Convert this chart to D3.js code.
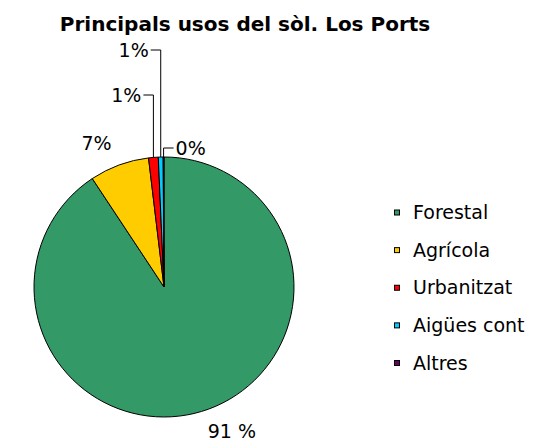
<!DOCTYPE html>
<html lang="ca">
  <head>
    <meta charset="UTF-8">
    <title>Principals usos del sòl. Los Ports</title>
    <style>
      body { margin: 0; background: #fff; }
      svg text { font-family: "DejaVu Sans", sans-serif; fill: #000; }
      .title { font-size: 20px; font-weight: bold; }
      .pct, .legend text { font-size: 19px; }
      .slice, .leader, .legend rect { stroke: #000; stroke-width: 1; }
      .leader { fill: none; }
    </style>
    <script src="https://d3js.org/d3.v7.min.js"></script>
  </head>
  <body>
    <script>
      // data (share of surface, %)
      const categories = ["Forestal", "Agrícola", "Urbanitzat", "Aigües cont", "Altres"];
      const values = [90.7, 7.4, 1.2, 0.6, 0.1];
      const pctLabels = ["91 %", "7%", "1%", "1%", "0%"];
      const colors = ["#339966", "#ffcc00", "#ff0000", "#00ccff", "#660066"];

      const width = 556;
      const height = 444;
      const cx = 164, cy = 287, radius = 130;

      // small slices got their labels pulled up with leader lines
      const leaderY = { "Urbanitzat": 95, "Aigües cont": 50, "Altres": 148 };
      const leaderSide = { "Urbanitzat": -1, "Aigües cont": -1, "Altres": 1 };

      const svg = d3.select("body")
        .append("svg")
        .attr("width", width)
        .attr("height", height);

      svg.append("text")
        .attr("class", "title")
        .attr("x", 245)
        .attr("y", 31)
        .attr("text-anchor", "middle")
        .text("Principals usos del sòl. Los Ports");

      const color = d3.scaleOrdinal().domain(categories).range(colors);

      const rows = categories.map((c, i) => ({ name: c, value: values[i], label: pctLabels[i] }));

      const pie = d3.pie().sort(null).value(d => d.value);
      const arcs = pie(rows);

      const arc = d3.arc().innerRadius(0).outerRadius(radius);
      const labelArc = d3.arc().innerRadius(152).outerRadius(152);

      const g = svg.append("g")
        .attr("transform", `translate(${cx},${cy})`);

      g.selectAll(".slice")
        .data(arcs)
        .enter()
        .append("path")
        .attr("class", "slice")
        .attr("fill", d => color(d.data.name))
        .attr("d", arc);

      // point on the rim in the middle of a slice
      function rim(d) {
        const a = (d.startAngle + d.endAngle) / 2;
        return [radius * Math.sin(a), -radius * Math.cos(a)];
      }

      const big = arcs.filter(d => !(d.data.name in leaderY));
      const small = arcs.filter(d => d.data.name in leaderY);

      g.selectAll(".pct-big")
        .data(big)
        .enter()
        .append("text")
        .attr("class", "pct")
        .attr("transform", d => `translate(${labelArc.centroid(d)})`)
        .attr("dy", "0.3em")
        .attr("text-anchor", d => labelArc.centroid(d)[0] > 0 ? "start" : "end")
        .text(d => d.data.label);

      g.selectAll(".leader")
        .data(small)
        .enter()
        .append("polyline")
        .attr("class", "leader")
        .attr("points", d => {
          const [x, y] = rim(d);
          const ly = leaderY[d.data.name] - cy;
          const lx = x + leaderSide[d.data.name] * 10;
          return [[lx, ly], [x, ly], [x, y]].map(p => p.join(",")).join(" ");
        });

      g.selectAll(".pct-small")
        .data(small)
        .enter()
        .append("text")
        .attr("class", "pct")
        .attr("x", d => rim(d)[0] + leaderSide[d.data.name] * 12)
        .attr("y", d => leaderY[d.data.name] - cy)
        .attr("dy", "0.35em")
        .attr("text-anchor", d => leaderSide[d.data.name] > 0 ? "start" : "end")
        .text(d => d.data.label);

      // legend
      const ly = d3.scalePoint().domain(categories).range([212.5, 363]);

      const legend = svg.append("g")
        .attr("class", "legend")
        .selectAll("g")
        .data(categories)
        .enter()
        .append("g")
        .attr("transform", d => `translate(394,${ly(d)})`);

      legend.append("rect")
        .attr("x", 0.5)
        .attr("y", -2.5)
        .attr("width", 5)
        .attr("height", 5)
        .attr("fill", d => color(d));

      legend.append("text")
        .attr("x", 19)
        .attr("dy", "0.35em")
        .text(d => d);
    </script>
  </body>
</html>
